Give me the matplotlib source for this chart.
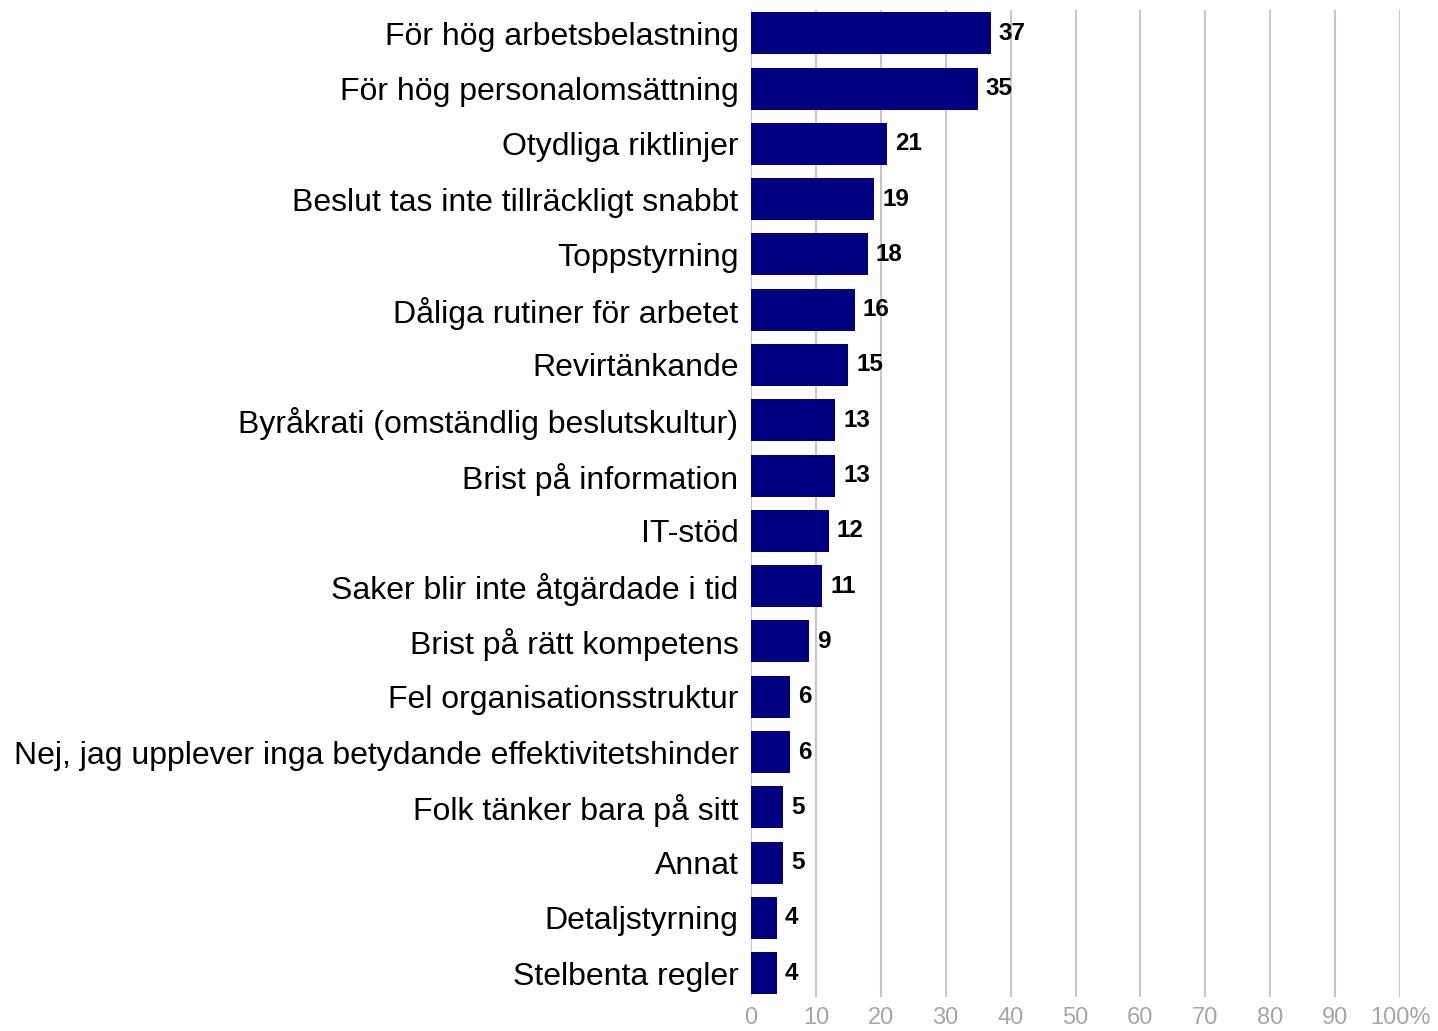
import matplotlib
matplotlib.use("Agg")
import matplotlib.pyplot as plt

categories = [
    "För hög arbetsbelastning",
    "För hög personalomsättning",
    "Otydliga riktlinjer",
    "Beslut tas inte tillräckligt snabbt",
    "Toppstyrning",
    "Dåliga rutiner för arbetet",
    "Revirtänkande",
    "Byråkrati (omständlig beslutskultur)",
    "Brist på information",
    "IT-stöd",
    "Saker blir inte åtgärdade i tid",
    "Brist på rätt kompetens",
    "Fel organisationsstruktur",
    "Nej, jag upplever inga betydande effektivitetshinder",
    "Folk tänker bara på sitt",
    "Annat",
    "Detaljstyrning",
    "Stelbenta regler",
]
values = [37, 35, 21, 19, 18, 16, 15, 13, 13, 12, 11, 9, 6, 6, 5, 5, 4, 4]
xticks = [0, 10, 20, 30, 40, 50, 60, 70, 80, 90, 100]
xticklabels = ["0", "10", "20", "30", "40", "50", "60", "70", "80", "90", "100%"]

plt.rcParams["font.family"] = ["Liberation Sans", "DejaVu Sans"]

fig = plt.figure(figsize=(14.38, 10.31), dpi=100)
ax = fig.add_axes([751/1438, 1 - 997/1031, (1400-751)/1438, (997-10)/1031])

y = list(range(len(categories)))
ax.barh(y, values, height=0.76, color="#000080", zorder=3)
for yi, v in zip(y, values):
    ax.text(v + 1.2, yi + 0.0, str(v), va="center", ha="left",
            fontsize=17.5, fontweight="bold", color="black", zorder=4)

ax.set_xlim(0, 100)
ax.set_ylim(17.43, -0.42)
ax.set_xticks(xticks)
ax.set_xticklabels(xticklabels, color="#a6a6a6", fontsize=17)
ax.set_yticks(y)
ax.set_yticklabels(categories, fontsize=23, color="black")
ax.tick_params(axis="y", length=0, pad=9)
ax.tick_params(axis="x", length=0, pad=7)
ax.grid(axis="x", color="#c6c6c6", linewidth=1.5, zorder=0)
ax.grid(axis="y", visible=False)
for s in ax.spines.values():
    s.set_visible(False)

fig.savefig("out.png", dpi=100)
